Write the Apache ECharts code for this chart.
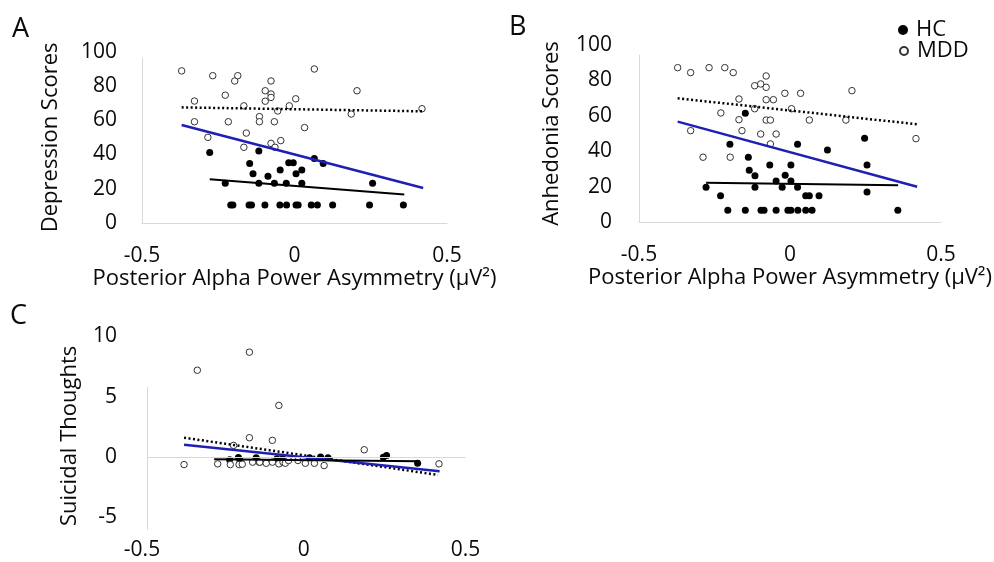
<!DOCTYPE html>
<html><head><meta charset="utf-8">
<script src="https://cdn.jsdelivr.net/npm/echarts@6/dist/echarts.min.js"></script>
<style>html,body{margin:0;padding:0;background:#fff}#c{width:994px;height:562px}</style>
</head><body><div id="c"></div>
<script>
// ---- tick labels ----
const xTicks = [-0.5, 0, 0.5];
const scoreTicks = [0, 20, 40, 60, 80, 100];
const suicidalTicks = [-5, 0, 5, 10];
const xTitle = 'Posterior Alpha Power Asymmetry (\u00b5V\u00b2)';

// ---- Panel A: Depression Scores ----
const depMDD = [[-0.370,88.8],[-0.328,71.2],[-0.328,59.1],[-0.284,50.0],[-0.268,86.0],[-0.227,74.6],[-0.217,59.1],[-0.196,82.9],[-0.186,86.0],[-0.166,68.4],[-0.158,52.5],[-0.166,44.2],[-0.115,62.1],[-0.115,59.1],[-0.096,77.2],[-0.096,71.1],[-0.077,82.9],[-0.077,75.3],[-0.077,73.3],[-0.077,46.5],[-0.066,59.1],[-0.064,44.2],[-0.055,65.4],[-0.045,48.1],[-0.017,68.4],[0.004,72.5],[0.033,55.7],[0.065,89.9],[0.186,63.6],[0.205,77.2],[0.418,66.7]];
const depHC = [[-0.278,41.2],[-0.227,23.2],[-0.209,10.5],[-0.202,10.5],[-0.149,10.5],[-0.147,34.8],[-0.141,10.5],[-0.136,28.8],[-0.117,42.1],[-0.117,23.2],[-0.097,10.5],[-0.087,27.3],[-0.066,23.2],[-0.048,10.5],[-0.047,31.0],[-0.027,23.2],[-0.026,10.5],[-0.019,35.1],[-0.004,35.1],[0.005,28.8],[0.005,10.5],[0.012,10.5],[0.024,31.0],[0.024,23.2],[0.055,10.5],[0.065,37.7],[0.075,10.5],[0.094,34.8],[0.125,10.5],[0.246,10.5],[0.256,23.2],[0.357,10.5]];
const depTrendMDD = [[-0.370,67.5],[0.418,65.2]];
const depTrendAll = [[-0.370,57.2],[0.422,20.4]];
const depTrendHC = [[-0.278,25.5],[0.360,16.7]];

// ---- Panel B: Anhedonia Scores ----
const anhMDD = [[-0.372,87.2],[-0.329,84.4],[-0.329,51.6],[-0.288,36.6],[-0.268,87.2],[-0.229,61.6],[-0.216,87.2],[-0.198,36.6],[-0.188,84.4],[-0.169,69.5],[-0.169,57.8],[-0.159,51.6],[-0.117,77.0],[-0.117,64.0],[-0.097,78.0],[-0.097,49.7],[-0.079,82.5],[-0.079,76.1],[-0.079,69.1],[-0.079,57.6],[-0.065,57.6],[-0.065,44.1],[-0.055,69.1],[-0.046,49.7],[-0.017,72.7],[0.005,64.0],[0.035,72.7],[0.064,57.6],[0.185,57.6],[0.205,74.2],[0.417,47.1]];
const anhHC = [[-0.278,19.6],[-0.230,14.9],[-0.206,6.6],[-0.199,43.9],[-0.148,6.6],[-0.148,61.4],[-0.138,36.6],[-0.135,29.2],[-0.116,26.2],[-0.116,19.6],[-0.096,6.6],[-0.086,6.6],[-0.067,32.2],[-0.046,6.6],[-0.046,23.2],[-0.026,19.6],[-0.016,26.4],[-0.007,6.6],[0.003,32.2],[0.003,23.2],[0.003,6.6],[0.025,43.9],[0.025,19.6],[0.026,6.6],[0.052,14.9],[0.064,14.9],[0.052,6.6],[0.073,6.6],[0.096,14.9],[0.124,40.7],[0.247,47.3],[0.255,32.2],[0.255,16.9],[0.357,6.6]];
const anhTrendMDD = [[-0.372,69.9],[0.421,55.2]];
const anhTrendAll = [[-0.372,56.7],[0.421,19.9]];
const anhTrendHC = [[-0.278,22.2],[0.358,20.7]];

// ---- Panel C: Suicidal Thoughts ----
const suiMDD = [[-0.370,-0.63],[-0.329,7.2],[-0.266,-0.57],[-0.227,-0.63],[-0.217,0.96],[-0.200,-0.63],[-0.190,-0.60],[-0.168,8.7],[-0.168,1.6],[-0.158,-0.43],[-0.136,-0.43],[-0.116,-0.52],[-0.097,1.38],[-0.097,-0.43],[-0.077,4.28],[-0.077,-0.57],[-0.064,-0.43],[-0.057,-0.52],[-0.047,-0.29],[-0.018,-0.29],[0.005,-0.52],[0.033,-0.52],[0.063,-0.71],[0.187,0.60],[0.418,-0.57]];
const suiHC = [[-0.229,-0.23],[-0.202,-0.04],[-0.197,-0.29],[-0.147,-0.07],[-0.137,-0.44],[-0.083,-0.15],[-0.065,-0.15],[0.018,-0.07],[0.052,0.0],[0.075,-0.07],[0.246,-0.02],[0.256,0.12],[0.352,-0.52]];
const suiTrendMDD = [[-0.370,1.6],[0.415,-1.49]];
const suiTrendAll = [[-0.370,1.02],[0.420,-1.19]];
const suiTrendHC = [[-0.277,-0.18],[0.358,-0.35]];

const FONT = '"Open Sans", "DejaVu Sans", sans-serif';
const TXT = '#0a0a0a';
const GRAY = '#d9d9d9';
const BLUE = '#1f1fb4';

const chart = echarts.init(document.getElementById('c'), null, {renderer: 'canvas'});

function xAxisOf(gi, name, showLine, margin) {
  return {
    type: 'value', gridIndex: gi, min: -0.5, max: 0.5,
    axisLine: {show: showLine, onZero: false, lineStyle: {color: GRAY, width: 1}},
    axisTick: {show: false}, splitLine: {show: false},
    axisLabel: {customValues: xTicks, margin: margin, color: TXT, fontFamily: FONT, fontSize: 21},
    name: name, nameLocation: 'middle', nameGap: 44,
    nameTextStyle: {color: TXT, fontFamily: FONT, fontSize: 22}
  };
}
function yAxisOf(gi, name, min, max, ticks, margin, gap) {
  return {
    type: 'value', gridIndex: gi, min: min, max: max,
    axisLine: {show: false}, axisTick: {show: false}, splitLine: {show: false},
    axisLabel: {customValues: ticks, margin: margin, color: TXT, fontFamily: FONT, fontSize: 21},
    name: name, nameLocation: 'middle', nameGap: gap,
    nameTextStyle: {color: TXT, fontFamily: FONT, fontSize: 22}
  };
}
function decoration(gi, lines) {
  return {
    type: 'line', xAxisIndex: gi, yAxisIndex: gi, data: [], z: 1, silent: true,
    markLine: {
      silent: true, symbol: ['none', 'none'], label: {show: false}, animation: false,
      lineStyle: {color: GRAY, width: 1, type: 'solid'}, emphasis: {disabled: true},
      data: lines.map(l => [{coord: l[0]}, {coord: l[1]}])
    }
  };
}
function panelSeries(gi, hc, mdd, tMDD, tAll, tHC) {
  return [
    {name: 'HC', type: 'scatter', xAxisIndex: gi, yAxisIndex: gi, data: hc, symbol: 'circle', symbolSize: 7,
     itemStyle: {color: '#000', opacity: 1}, z: 3},
    {name: 'MDD', type: 'scatter', xAxisIndex: gi, yAxisIndex: gi, data: mdd, symbol: 'circle', symbolSize: 6.5,
     itemStyle: {color: '#fff', borderColor: '#333', borderWidth: 1, opacity: 1}, z: 3},
    {name: 'MDD trend', type: 'line', xAxisIndex: gi, yAxisIndex: gi, data: tMDD, symbol: 'none', z: 4,
     lineStyle: {color: '#000', width: 2.5, type: [2, 2.5]}},
    {name: 'All trend', type: 'line', xAxisIndex: gi, yAxisIndex: gi, data: tAll, symbol: 'none', z: 4,
     lineStyle: {color: BLUE, width: 2.5}},
    {name: 'HC trend', type: 'line', xAxisIndex: gi, yAxisIndex: gi, data: tHC, symbol: 'none', z: 4,
     lineStyle: {color: '#000', width: 2}}
  ];
}

const option = {
  animation: false,
  backgroundColor: '#fff',
  title: [
    {text: 'A', left: 7, top: 11, textStyle: {fontFamily: FONT, fontSize: 27, fontWeight: 'normal', color: TXT}},
    {text: 'B', left: 504, top: 9, textStyle: {fontFamily: FONT, fontSize: 27, fontWeight: 'normal', color: TXT}},
    {text: 'C', left: 5, top: 298, textStyle: {fontFamily: FONT, fontSize: 27, fontWeight: 'normal', color: TXT}}
  ],
  legend: [
    {data: ['HC'], orient: 'vertical', left: 898, top: 19, padding: 0, itemWidth: 10, itemHeight: 10,
     selectedMode: false, icon: 'circle', itemStyle: {opacity: 1},
     textStyle: {fontFamily: FONT, fontSize: 22, color: TXT, padding: [0, 0, 0, 3]}},
    {data: ['MDD'], orient: 'vertical', left: 899, top: 40, padding: 0, itemWidth: 8, itemHeight: 8,
     selectedMode: false, icon: 'circle', itemStyle: {opacity: 1},
     textStyle: {fontFamily: FONT, fontSize: 22, color: TXT, padding: [0, 0, 0, 4]}}
  ],
  grid: [
    {left: 142, width: 305, top: 51.7, height: 171.3},
    {left: 639, width: 313.5, top: 45, height: 177},
    {left: 142, width: 323.5, top: 336.5, height: 198.8}
  ],
  xAxis: [
    xAxisOf(0, xTitle, true, 23),
    xAxisOf(1, xTitle, true, 23),
    xAxisOf(2, '', false, 4)
  ],
  yAxis: [
    yAxisOf(0, 'Depression Scores', 0, 100, scoreTicks, 25, 80),
    yAxisOf(1, 'Anhedonia Scores', 0, 100, scoreTicks, 27, 76),
    yAxisOf(2, 'Suicidal Thoughts', -6.5, 10, suicidalTicks, 25, 61)
  ],
  series: [].concat(
    [decoration(0, [[[-0.5, 0], [-0.5, 96.3]]])],
    [decoration(1, [[[-0.5, 0], [-0.5, 94.5]]])],
    [decoration(2, [[[-0.485, -6.06], [-0.485, 5.8]], [[-0.485, 0], [0.5, 0]]])],
    panelSeries(0, depHC, depMDD, depTrendMDD, depTrendAll, depTrendHC),
    panelSeries(1, anhHC, anhMDD, anhTrendMDD, anhTrendAll, anhTrendHC),
    panelSeries(2, suiHC, suiMDD, suiTrendMDD, suiTrendAll, suiTrendHC)
  )
};
chart.setOption(option);
</script></body></html>
